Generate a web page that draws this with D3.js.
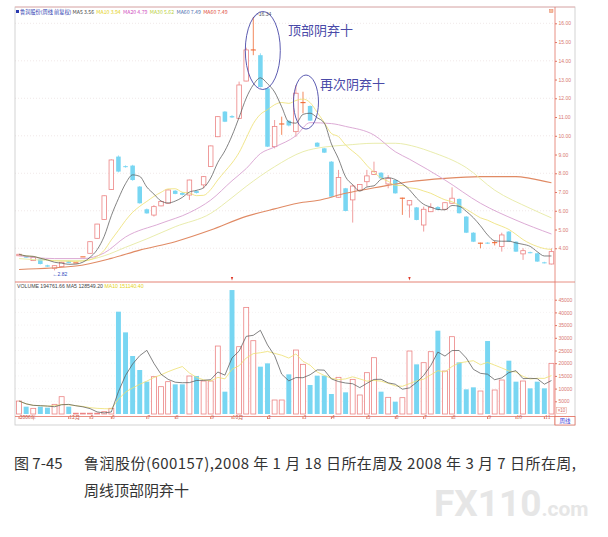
<!DOCTYPE html>
<html>
<head>
<meta charset="utf-8">
<script src="https://cdn.jsdelivr.net/npm/d3@7"></script>
<style>
body { margin: 0; background: #fff; }
svg { display: block; }
</style>
</head>
<body>
<svg width="608" height="537"></svg>
<script>
// weekly bars (index 0..75)
var opens  = [3.60,3.58,3.34,3.41,3.09,2.93,3.02,3.30,3.22,3.54, 3.73,4.53,5.54,7.14,8.89,8.38,8.41,7.29,6.08,5.77,
              6.26,6.40,7.07,6.95,6.84,7.05,7.38,8.36,9.95,11.29, 11.05,10.93,12.92,14.58,14.30,12.53,9.42,10.63,10.80,10.22,
              11.77,11.59,9.63,9.33,8.62,6.72,7.20,6.58,7.10,7.55, 7.94,8.03,7.43,7.64,6.67,6.31,6.18,5.24,5.95,6.20,
              6.08,6.40,6.63,5.69,4.83,4.27,4.30,4.30,4.09,4.89, 4.35,3.70,3.79,3.73,3.25,3.16];
var highs  = [3.70,3.60,3.55,3.43,3.12,3.08,3.28,3.34,3.22,3.54, 4.36,5.30,6.82,8.74,8.95,8.42,8.45,7.32,6.12,6.30,
              6.52,7.14,7.10,7.00,7.66,7.10,7.85,9.48,11.05,11.32, 11.10,12.89,14.70,16.34,14.40,12.56,10.84,11.02,10.84,12.71,
              12.35,11.62,9.66,9.36,8.65,8.18,7.22,7.40,7.42,8.18, 8.62,8.06,7.90,7.66,6.70,6.56,6.20,6.22,6.40,6.25,
              6.45,7.25,6.66,5.72,4.86,4.30,4.32,4.40,4.83,4.92, 4.38,4.00,3.82,3.76,3.28,4.00];
var lows   = [3.58,3.48,3.32,3.14,3.00,2.82,3.00,3.19,3.22,3.54, 3.72,4.52,5.52,7.12,8.05,8.30,7.60,6.38,5.84,5.69,
              6.24,6.38,6.88,6.82,6.58,6.92,7.20,8.34,9.93,10.73, 10.95,10.90,12.90,14.30,12.58,9.40,9.33,10.05,10.50,9.95,
              11.20,10.79,9.40,9.08,6.73,6.70,5.97,5.37,7.08,7.29, 7.92,7.71,7.20,6.91,5.78,5.63,5.49,4.89,5.93,6.02,
              6.05,6.38,5.85,4.81,4.33,4.00,4.23,4.15,3.82,4.33, 3.80,3.38,3.73,3.27,3.19,3.14];
var closes = [3.68,3.50,3.52,3.16,3.02,3.07,3.25,3.22,3.22,3.54, 4.35,5.29,6.80,8.71,8.09,8.33,7.64,6.40,5.86,6.22,
              6.49,7.11,6.90,6.85,7.64,6.95,7.82,9.46,11.02,10.75, 10.98,12.71,14.58,14.58,12.60,9.42,10.49,10.63,10.55,12.27,
              11.77,10.81,9.42,9.10,6.75,7.78,5.99,7.32,7.40,7.86, 8.09,7.73,7.73,6.93,6.67,6.54,5.51,6.08,6.18,6.05,
              6.43,6.67,5.87,4.83,4.35,4.27,4.25,4.30,4.71,4.35, 3.82,3.87,3.75,3.29,3.21,3.82];
var volumes = [5100,2890,2230,2890,2490,3800,6820,2890,300,300, 300,300,920,2230,40280,32140,22830,17320,12730,14690,
               10760,12730,11680,11680,14960,14960,12990,12990,26760,8790, 48800,26500,41980,28860,18630,19940,5510,5510,15610,25190,
               19550,11410,15090,15090,7870,14430,8530,13640,7480,16270, 22170,8790,6560,4850,6430,24800,19550,20200,24530,32800,
               16920,30440,20340,9710,10500,9050,28730,9450,13380,20990, 12730,12990,10100,12730,10100,19940];

// longer averages at sample weeks
var ma20Idx = [0,5,9,12,15,20,24,27,30,32,34,36,39,41,44,46,50,53,55,60,65,70,75];
var ma20Val = [3.60,3.45,3.45,3.75,4.60,5.33,5.90,6.57,7.60,8.25,9.05,9.40,10.0,10.7,10.65,10.5,10.04,9.15,8.75,7.64,6.40,5.50,4.76];
var ma30Idx = [0,5,9,12,15,18,22,27,30,32,36,40,43,46,50,53,56,58,63,67,72,75];
var ma30Val = [3.45,3.35,3.35,3.60,4.05,4.50,5.15,5.86,6.70,7.30,8.35,9.15,9.40,9.50,9.60,9.60,9.40,9.15,8.30,7.10,6.13,5.62];
var ma60Idx = [0,8,13,17,22,27,32,36,40,42,46,51,55,60,65,70,72,75];
var ma60Val = [2.87,3.05,3.46,3.90,4.35,4.97,5.70,6.10,6.45,6.55,6.93,7.29,7.55,7.73,7.82,7.82,7.73,7.49];

var priceTicks = [4,5,6,7,8,9,10,11,12,13,14,15,16];
var volTicks = [5000,10000,15000,20000,25000,30000,35000,40000,45000];
var dateIdx = [0,7,10,13,18,22,27,30,35,40,44,49,53,57,61,66,70,74];
var dateLbl = ["2006年","12月","5","6","7","8","9","10月","2","3","4","5","6","7","8","9","10","11"];

var svg = d3.select("svg");
var leftX = 15, axisX = 555, outerX = 575, topY = 7, sepY = 282, volBase = 414, stripY = 416.5, bottomY = 425;
var CJK = "'Noto Sans CJK SC', 'Noto Sans', sans-serif";
var SANS = "'Liberation Sans', 'DejaVu Sans', sans-serif";

var idx = d3.range(closes.length);
var x = d3.scaleBand().domain(idx).range([15.5, axisX]).paddingInner(0.36).paddingOuter(0.18);
var cx = function (i) { return x(i) + x.bandwidth() / 2; };
var y = d3.scaleLinear().domain([2.2, 16.87]).range([sepY, topY]);
var yv = d3.scaleLinear().domain([0, 51970]).range([volBase, sepY]);

function movAvg(arr, n) {
    return arr.map(function (d, i) { return d3.mean(arr.slice(Math.max(0, i - n + 1), i + 1)); });
}

// grid
svg.append("g").selectAll("line").data([4,6,8,10,12,14,16]).enter().append("line")
    .attr("x1", leftX).attr("x2", axisX).attr("y1", function (d) { return y(d); }).attr("y2", function (d) { return y(d); })
    .attr("stroke", "#e6d8d8").attr("stroke-width", 0.6).attr("stroke-dasharray", "1,2");
svg.append("g").selectAll("line").data(volTicks).enter().append("line")
    .attr("x1", leftX).attr("x2", axisX).attr("y1", function (d) { return yv(d); }).attr("y2", function (d) { return yv(d); })
    .attr("stroke", "#ede6e6").attr("stroke-width", 0.5).attr("stroke-dasharray", "1,2");

// frame
svg.append("rect").attr("x", leftX).attr("y", topY).attr("width", outerX - leftX).attr("height", bottomY - topY)
    .attr("fill", "none").attr("stroke", "#c8c8c8").attr("stroke-width", 0.8);
svg.append("line").attr("x1", leftX).attr("x2", outerX).attr("y1", topY).attr("y2", topY).attr("stroke", "#eaa8a8").attr("stroke-width", 0.8);
svg.append("line").attr("x1", leftX).attr("x2", axisX).attr("y1", sepY).attr("y2", sepY).attr("stroke", "#e27464").attr("stroke-width", 0.9);
svg.append("line").attr("x1", leftX).attr("x2", outerX).attr("y1", stripY).attr("y2", stripY).attr("stroke", "#e27464").attr("stroke-width", 0.8);
svg.append("line").attr("x1", axisX).attr("x2", outerX).attr("y1", sepY).attr("y2", sepY).attr("stroke", "#e27464").attr("stroke-width", 0.8);

var bull = "#ec8484", bear = "#78d6f2", doji = "#f06a34";
function colorOf(i) { return closes[i] > opens[i] ? bull : (closes[i] < opens[i] ? bear : doji); }

// candles
var cg = svg.append("g");
idx.forEach(function (i) {
    var c = colorOf(i);
    cg.append("line").attr("x1", cx(i)).attr("x2", cx(i)).attr("y1", y(highs[i])).attr("y2", y(lows[i]))
        .attr("stroke", c).attr("stroke-width", 0.8);
    if (closes[i] === opens[i]) {
        cg.append("line").attr("x1", x(i) - 0.3).attr("x2", x(i) + x.bandwidth() + 0.3)
            .attr("y1", y(closes[i])).attr("y2", y(closes[i])).attr("stroke", c).attr("stroke-width", 1.1);
    } else {
        var yTop = y(Math.max(opens[i], closes[i])), h = Math.abs(y(opens[i]) - y(closes[i]));
        cg.append("rect").attr("x", x(i)).attr("y", yTop).attr("width", x.bandwidth()).attr("height", Math.max(h, 1))
            .attr("fill", closes[i] > opens[i] ? "#fff" : bear)
            .attr("stroke", closes[i] > opens[i] ? bull : "none").attr("stroke-width", 0.8);
    }
});

// moving averages
var line = d3.line().x(function (d) { return cx(d[0]); }).y(function (d) { return y(d[1]); }).curve(d3.curveMonotoneX);
function pairs(ix, vs) { return ix.map(function (d, k) { return [d, vs[k]]; }); }
var ma5 = movAvg(closes, 5), ma10 = movAvg(closes, 10);
[[pairs(ma60Idx, ma60Val), "#e08a64", 1.1],
 [pairs(ma30Idx, ma30Val), "#e6eaa4", 0.9],
 [pairs(ma20Idx, ma20Val), "#d8a2d0", 0.9],
 [idx.map(function (i) { return [i, ma10[i]]; }), "#eee070", 0.8],
 [idx.map(function (i) { return [i, ma5[i]]; }), "#5a5a5a", 0.75]].forEach(function (s) {
    svg.append("path").datum(s[0]).attr("d", line).attr("fill", "none").attr("stroke", s[1]).attr("stroke-width", s[2]);
});

// volume bars
var vg = svg.append("g");
idx.forEach(function (i) {
    var up = closes[i] >= opens[i];
    var h = Math.max(volBase - yv(volumes[i]), 0.8);
    vg.append("rect").attr("x", x(i) - 0.2).attr("y", volBase - h).attr("width", x.bandwidth() + 0.4).attr("height", h)
        .attr("fill", up ? "#fff" : bear).attr("stroke", up ? bull : "none").attr("stroke-width", 0.8);
});
var vline = d3.line().x(function (d, i) { return cx(i); }).y(function (d) { return yv(d); });
svg.append("path").datum(movAvg(volumes, 10)).attr("d", vline).attr("fill", "none").attr("stroke", "#eee070").attr("stroke-width", 0.8);
svg.append("path").datum(movAvg(volumes, 5)).attr("d", vline).attr("fill", "none").attr("stroke", "#5a5a5a").attr("stroke-width", 0.75);

// axes
var pAxis = svg.append("g").attr("transform", "translate(" + axisX + ",0)")
    .call(d3.axisRight(y).tickValues(priceTicks).tickFormat(d3.format(".2f")).tickSize(2).tickPadding(1.5));
var vAxis = svg.append("g").attr("transform", "translate(" + axisX + ",0)")
    .call(d3.axisRight(yv).tickValues(volTicks).tickFormat(d3.format("d")).tickSize(2).tickPadding(1.5));
[pAxis, vAxis].forEach(function (a) {
    a.select(".domain").remove();
    a.selectAll(".tick line").attr("stroke", "#e27464");
    a.selectAll("text").attr("fill", "#d87870").attr("font-size", 5).attr("font-family", SANS);
});
svg.append("line").attr("x1", axisX).attr("x2", axisX).attr("y1", topY).attr("y2", bottomY).attr("stroke", "#e27464").attr("stroke-width", 0.8);

var xAxis = svg.append("g").attr("transform", "translate(0," + stripY + ")")
    .call(d3.axisBottom(x).tickValues(dateIdx).tickFormat(function (d, k) { return dateLbl[k]; }).tickSize(2.5).tickPadding(0.5));
xAxis.select(".domain").remove();
xAxis.selectAll(".tick line").attr("stroke", "#e27464");
xAxis.selectAll("text").attr("fill", "#c8584a").attr("font-size", 5).attr("font-family", CJK)
    .attr("text-anchor", "start").attr("dx", 0.6).attr("dy", -0.2);

// corner boxes
svg.append("rect").attr("x", axisX).attr("y", stripY).attr("width", outerX - axisX).attr("height", bottomY - stripY)
    .attr("fill", "#fff").attr("stroke", "#e27464").attr("stroke-width", 0.8);
svg.append("text").attr("x", 565).attr("y", 422.8).attr("text-anchor", "middle").attr("font-size", 5.5)
    .attr("font-family", CJK).attr("fill", "#3b3bd8").text("周线");
svg.append("rect").attr("x", 556.5).attr("y", 407.5).attr("width", 10).attr("height", 6)
    .attr("fill", "#fff").attr("stroke", "#e8a090").attr("stroke-width", 0.5);
svg.append("text").attr("x", 561.5).attr("y", 412.3).attr("text-anchor", "middle").attr("font-size", 4.5)
    .attr("font-family", SANS).attr("fill", "#d46a62").text("×10");
svg.append("rect").attr("x", 549.5).attr("y", 9.5).attr("width", 3.5).attr("height", 3)
    .attr("fill", "#f6c0a0").attr("stroke", "#e07050").attr("stroke-width", 0.4);

// info markers on the separator
[30, 55].forEach(function (i) {
    svg.append("path").attr("d", "M" + (cx(i) - 1.2) + "," + (sepY - 5) + "h2.4l-1.2,3.5z").attr("fill", "#e03a2a");
});

// header lines
var head = svg.append("text").attr("x", 20).attr("y", 13.5).attr("font-size", 5.2).attr("font-family", CJK);
[["鲁润股份(周线 前复权) ", "#2a3ab0"], ["MA5 3.56  ", "#444"], ["MA10 3.94  ", "#e4d21a"],
 ["MA20 4.79  ", "#d050c0"], ["MA30 5.62  ", "#b8d040"], ["MA60 7.49  ", "#5070b0"], ["MA60 7.49", "#e05040"]]
    .forEach(function (p) { head.append("tspan").attr("fill", p[1]).attr("xml:space", "preserve").text(p[0]); });
svg.append("rect").attr("x", 16).attr("y", 10).attr("width", 3).attr("height", 3).attr("fill", "#2a3ab0");
var vhead = svg.append("text").attr("x", 17).attr("y", 287.5).attr("font-size", 5.2).attr("font-family", SANS);
[["VOLUME 194761.66  MA5 128549.20  ", "#444"], ["MA10 151140.40", "#e4d21a"]]
    .forEach(function (p) { vhead.append("tspan").attr("fill", p[1]).text(p[0]); });

// high / low marks
var pk = 33, lo = 5;
svg.append("path").attr("d", "M" + (cx(pk) + 0.5) + "," + (y(highs[pk]) + 1) + "q2,-4 5,-4")
    .attr("fill", "none").attr("stroke", "#6a6aa0").attr("stroke-width", 0.5);
svg.append("text").attr("x", cx(pk) + 5.5).attr("y", y(highs[pk]) - 1.2).attr("font-size", 5)
    .attr("font-family", SANS).attr("fill", "#555").text("16.34");
svg.append("text").attr("x", cx(lo) - 2).attr("y", y(lows[lo]) + 5.5).attr("font-size", 5)
    .attr("font-family", SANS).attr("fill", "#3048c0").text("←2.82");

// annotations
var ink = "#4a4aa8";
svg.append("ellipse").attr("cx", cx(33) + 9.5).attr("cy", y(14.55)).attr("rx", 17.5).attr("ry", 39)
    .attr("fill", "none").attr("stroke", ink).attr("stroke-width", 0.9);
svg.append("ellipse").attr("cx", cx(40) + 3).attr("cy", y(11.8)).attr("rx", 12.5).attr("ry", 27)
    .attr("fill", "none").attr("stroke", ink).attr("stroke-width", 0.9);
svg.append("text").attr("x", 288).attr("y", 35).attr("font-size", 13).attr("font-family", CJK).attr("fill", ink).text("顶部阴弃十");
svg.append("text").attr("x", 320).attr("y", 89).attr("font-size", 13).attr("font-family", CJK).attr("fill", ink).text("再次阴弃十");

// caption
svg.append("text").attr("x", 14).attr("y", 469).attr("font-size", 15).attr("font-family", CJK).attr("fill", "#333").text("图 7-45");
svg.append("text").attr("x", 84).attr("y", 469).attr("font-size", 15).attr("font-family", CJK).attr("fill", "#333")
    .attr("textLength", 492).attr("lengthAdjust", "spacing")
    .text("鲁润股份(600157),2008 年 1 月 18 日所在周及 2008 年 3 月 7 日所在周,");
svg.append("text").attr("x", 84).attr("y", 496).attr("font-size", 15).attr("font-family", CJK).attr("fill", "#333")
    .text("周线顶部阴弃十");

// watermark
var wm = svg.append("text").attr("x", 434).attr("y", 516).attr("font-family", "Roboto, sans-serif").attr("fill", "#e6e6e6");
wm.append("tspan").attr("font-size", 37).attr("font-weight", "bold").text("FX110");
wm.append("tspan").attr("font-size", 21).attr("font-weight", "bold").text(".com");
</script>
</body>
</html>
